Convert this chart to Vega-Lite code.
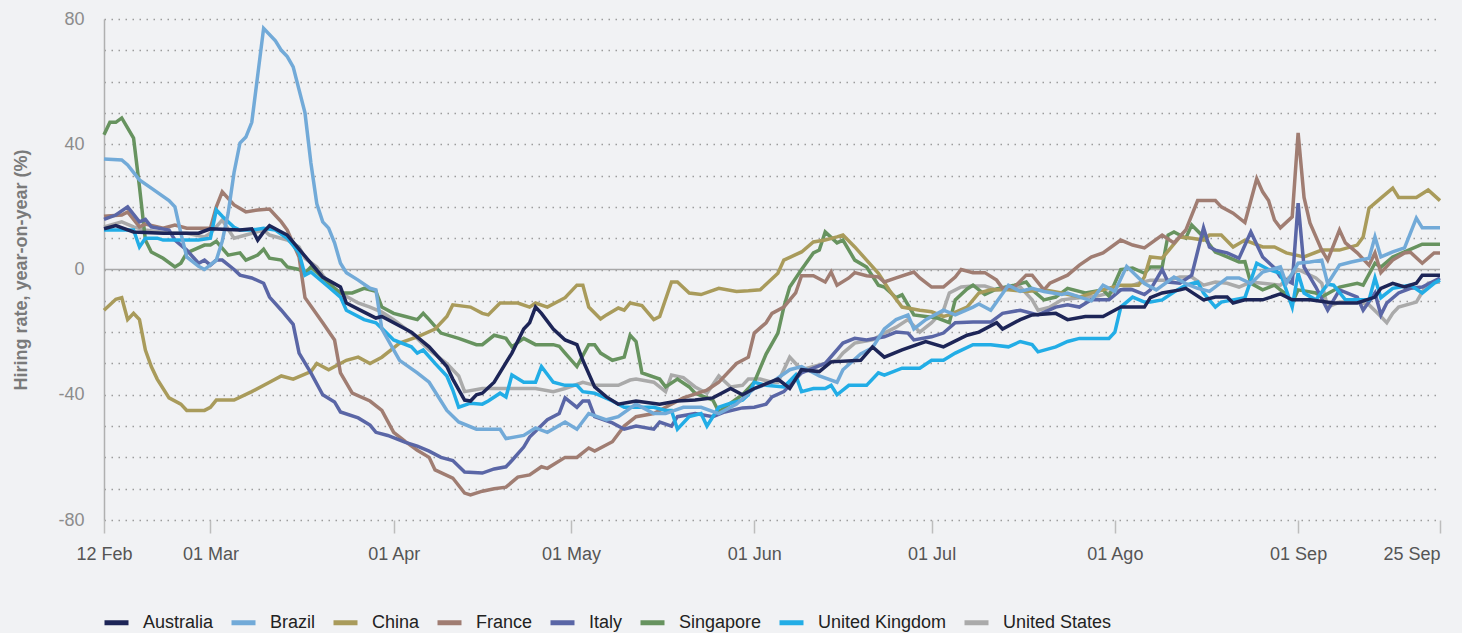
{
"$schema":"https://vega.github.io/schema/vega-lite/v6.json",
"width":1336,"height":501,
"autosize":{"type":"none"},
"padding":{"left":104,"top":19,"right":22,"bottom":113},
"background":"#f1f2f4",
"config":{"view":{"stroke":null},"font":"Liberation Sans"},
"data":{"values":[
{"country":"United States","date":"2020-02-12","rate":13.6},{"country":"United States","date":"2020-02-15","rate":15.2},{"country":"United States","date":"2020-02-17","rate":13.6},{"country":"United States","date":"2020-02-19","rate":12.6},{"country":"United States","date":"2020-02-23","rate":11.6},{"country":"United States","date":"2020-02-26","rate":11.6},{"country":"United States","date":"2020-02-29","rate":10.4},{"country":"United States","date":"2020-03-01","rate":11.6},{"country":"United States","date":"2020-03-03","rate":15.8},{"country":"United States","date":"2020-03-05","rate":10},{"country":"United States","date":"2020-03-07","rate":11},{"country":"United States","date":"2020-03-10","rate":12.6},{"country":"United States","date":"2020-03-11","rate":11},{"country":"United States","date":"2020-03-14","rate":9.4},{"country":"United States","date":"2020-03-16","rate":7.2},{"country":"United States","date":"2020-03-17","rate":3.6},{"country":"United States","date":"2020-03-19","rate":0.8},{"country":"United States","date":"2020-03-21","rate":-4.4},{"country":"United States","date":"2020-03-23","rate":-7.5},{"country":"United States","date":"2020-03-26","rate":-10.7},{"country":"United States","date":"2020-03-28","rate":-12},{"country":"United States","date":"2020-03-30","rate":-13.6},{"country":"United States","date":"2020-04-01","rate":-16},{"country":"United States","date":"2020-04-04","rate":-20.3},{"country":"United States","date":"2020-04-07","rate":-25.7},{"country":"United States","date":"2020-04-10","rate":-30},{"country":"United States","date":"2020-04-12","rate":-34},{"country":"United States","date":"2020-04-13","rate":-39},{"country":"United States","date":"2020-04-16","rate":-38},{"country":"United States","date":"2020-04-18","rate":-38},{"country":"United States","date":"2020-04-22","rate":-38},{"country":"United States","date":"2020-04-25","rate":-38},{"country":"United States","date":"2020-04-28","rate":-39},{"country":"United States","date":"2020-04-30","rate":-38},{"country":"United States","date":"2020-05-03","rate":-36},{"country":"United States","date":"2020-05-05","rate":-37},{"country":"United States","date":"2020-05-09","rate":-37},{"country":"United States","date":"2020-05-11","rate":-35.3},{"country":"United States","date":"2020-05-12","rate":-35},{"country":"United States","date":"2020-05-15","rate":-36},{"country":"United States","date":"2020-05-17","rate":-39},{"country":"United States","date":"2020-05-18","rate":-33.7},{"country":"United States","date":"2020-05-20","rate":-34.5},{"country":"United States","date":"2020-05-22","rate":-37.5},{"country":"United States","date":"2020-05-24","rate":-39.5},{"country":"United States","date":"2020-05-26","rate":-34},{"country":"United States","date":"2020-05-28","rate":-37.5},{"country":"United States","date":"2020-05-30","rate":-37},{"country":"United States","date":"2020-05-31","rate":-35},{"country":"United States","date":"2020-06-02","rate":-35},{"country":"United States","date":"2020-06-04","rate":-36},{"country":"United States","date":"2020-06-05","rate":-36},{"country":"United States","date":"2020-06-07","rate":-28},{"country":"United States","date":"2020-06-09","rate":-32},{"country":"United States","date":"2020-06-12","rate":-30.5},{"country":"United States","date":"2020-06-15","rate":-29},{"country":"United States","date":"2020-06-16","rate":-26.7},{"country":"United States","date":"2020-06-18","rate":-23.5},{"country":"United States","date":"2020-06-21","rate":-22.5},{"country":"United States","date":"2020-06-23","rate":-20.3},{"country":"United States","date":"2020-06-25","rate":-18.4},{"country":"United States","date":"2020-06-27","rate":-16},{"country":"United States","date":"2020-06-29","rate":-20},{"country":"United States","date":"2020-07-01","rate":-17},{"country":"United States","date":"2020-07-03","rate":-13},{"country":"United States","date":"2020-07-04","rate":-7.5},{"country":"United States","date":"2020-07-06","rate":-5.6},{"country":"United States","date":"2020-07-08","rate":-5.3},{"country":"United States","date":"2020-07-10","rate":-5.3},{"country":"United States","date":"2020-07-12","rate":-6.5},{"country":"United States","date":"2020-07-15","rate":-5.6},{"country":"United States","date":"2020-07-16","rate":-5.6},{"country":"United States","date":"2020-07-18","rate":-9.7},{"country":"United States","date":"2020-07-19","rate":-13},{"country":"United States","date":"2020-07-21","rate":-12},{"country":"United States","date":"2020-07-23","rate":-9.7},{"country":"United States","date":"2020-07-26","rate":-9},{"country":"United States","date":"2020-07-29","rate":-8.5},{"country":"United States","date":"2020-07-31","rate":-7.5},{"country":"United States","date":"2020-08-02","rate":-6.5},{"country":"United States","date":"2020-08-05","rate":-4.4},{"country":"United States","date":"2020-08-07","rate":-3.4},{"country":"United States","date":"2020-08-10","rate":-3.4},{"country":"United States","date":"2020-08-12","rate":-2.4},{"country":"United States","date":"2020-08-14","rate":-2.4},{"country":"United States","date":"2020-08-16","rate":-5},{"country":"United States","date":"2020-08-18","rate":-4},{"country":"United States","date":"2020-08-20","rate":-4.4},{"country":"United States","date":"2020-08-22","rate":-5.6},{"country":"United States","date":"2020-08-24","rate":-4},{"country":"United States","date":"2020-08-26","rate":-4.4},{"country":"United States","date":"2020-08-29","rate":-5},{"country":"United States","date":"2020-09-01","rate":0},{"country":"United States","date":"2020-09-04","rate":-2.7},{"country":"United States","date":"2020-09-05","rate":-4.4},{"country":"United States","date":"2020-09-06","rate":-12},{"country":"United States","date":"2020-09-08","rate":-10.4},{"country":"United States","date":"2020-09-11","rate":-10.4},{"country":"United States","date":"2020-09-13","rate":-11.3},{"country":"United States","date":"2020-09-15","rate":-15},{"country":"United States","date":"2020-09-16","rate":-17},{"country":"United States","date":"2020-09-17","rate":-14},{"country":"United States","date":"2020-09-18","rate":-12},{"country":"United States","date":"2020-09-21","rate":-10.4},{"country":"United States","date":"2020-09-22","rate":-7.2},{"country":"United States","date":"2020-09-23","rate":-4.4},{"country":"United States","date":"2020-09-25","rate":-4},
{"country":"Singapore","date":"2020-02-12","rate":43},{"country":"Singapore","date":"2020-02-13","rate":47},{"country":"Singapore","date":"2020-02-14","rate":47},{"country":"Singapore","date":"2020-02-15","rate":48.4},{"country":"Singapore","date":"2020-02-17","rate":42},{"country":"Singapore","date":"2020-02-18","rate":26.4},{"country":"Singapore","date":"2020-02-19","rate":9.4},{"country":"Singapore","date":"2020-02-20","rate":5.6},{"country":"Singapore","date":"2020-02-22","rate":3.6},{"country":"Singapore","date":"2020-02-24","rate":0.8},{"country":"Singapore","date":"2020-02-25","rate":2},{"country":"Singapore","date":"2020-02-26","rate":5.3},{"country":"Singapore","date":"2020-02-29","rate":7.8},{"country":"Singapore","date":"2020-03-01","rate":7.8},{"country":"Singapore","date":"2020-03-02","rate":9},{"country":"Singapore","date":"2020-03-04","rate":4.6},{"country":"Singapore","date":"2020-03-06","rate":5.3},{"country":"Singapore","date":"2020-03-07","rate":3},{"country":"Singapore","date":"2020-03-09","rate":4.6},{"country":"Singapore","date":"2020-03-10","rate":6.5},{"country":"Singapore","date":"2020-03-11","rate":3.6},{"country":"Singapore","date":"2020-03-13","rate":3},{"country":"Singapore","date":"2020-03-14","rate":0.8},{"country":"Singapore","date":"2020-03-16","rate":0},{"country":"Singapore","date":"2020-03-17","rate":-1.2},{"country":"Singapore","date":"2020-03-18","rate":0.8},{"country":"Singapore","date":"2020-03-21","rate":-4.4},{"country":"Singapore","date":"2020-03-23","rate":-7.5},{"country":"Singapore","date":"2020-03-25","rate":-7.5},{"country":"Singapore","date":"2020-03-27","rate":-6},{"country":"Singapore","date":"2020-03-29","rate":-7},{"country":"Singapore","date":"2020-03-30","rate":-12},{"country":"Singapore","date":"2020-04-01","rate":-14},{"country":"Singapore","date":"2020-04-03","rate":-15},{"country":"Singapore","date":"2020-04-05","rate":-16},{"country":"Singapore","date":"2020-04-06","rate":-14},{"country":"Singapore","date":"2020-04-07","rate":-16},{"country":"Singapore","date":"2020-04-09","rate":-20.3},{"country":"Singapore","date":"2020-04-12","rate":-22},{"country":"Singapore","date":"2020-04-15","rate":-24},{"country":"Singapore","date":"2020-04-16","rate":-24},{"country":"Singapore","date":"2020-04-18","rate":-21},{"country":"Singapore","date":"2020-04-20","rate":-22},{"country":"Singapore","date":"2020-04-21","rate":-24.7},{"country":"Singapore","date":"2020-04-23","rate":-22},{"country":"Singapore","date":"2020-04-25","rate":-24},{"country":"Singapore","date":"2020-04-28","rate":-24},{"country":"Singapore","date":"2020-04-29","rate":-24.5},{"country":"Singapore","date":"2020-04-30","rate":-26.7},{"country":"Singapore","date":"2020-05-02","rate":-31},{"country":"Singapore","date":"2020-05-04","rate":-24},{"country":"Singapore","date":"2020-05-05","rate":-24},{"country":"Singapore","date":"2020-05-06","rate":-26.7},{"country":"Singapore","date":"2020-05-08","rate":-29},{"country":"Singapore","date":"2020-05-10","rate":-28},{"country":"Singapore","date":"2020-05-11","rate":-21},{"country":"Singapore","date":"2020-05-12","rate":-23},{"country":"Singapore","date":"2020-05-13","rate":-33},{"country":"Singapore","date":"2020-05-16","rate":-35},{"country":"Singapore","date":"2020-05-17","rate":-37.5},{"country":"Singapore","date":"2020-05-19","rate":-35},{"country":"Singapore","date":"2020-05-21","rate":-37.5},{"country":"Singapore","date":"2020-05-22","rate":-39.5},{"country":"Singapore","date":"2020-05-25","rate":-41.7},{"country":"Singapore","date":"2020-05-26","rate":-45.5},{"country":"Singapore","date":"2020-05-28","rate":-42.7},{"country":"Singapore","date":"2020-05-30","rate":-40},{"country":"Singapore","date":"2020-06-01","rate":-36},{"country":"Singapore","date":"2020-06-03","rate":-27},{"country":"Singapore","date":"2020-06-05","rate":-20.3},{"country":"Singapore","date":"2020-06-06","rate":-12},{"country":"Singapore","date":"2020-06-07","rate":-5.6},{"country":"Singapore","date":"2020-06-09","rate":0},{"country":"Singapore","date":"2020-06-11","rate":5.3},{"country":"Singapore","date":"2020-06-12","rate":6.2},{"country":"Singapore","date":"2020-06-13","rate":12},{"country":"Singapore","date":"2020-06-15","rate":8.5},{"country":"Singapore","date":"2020-06-16","rate":9.4},{"country":"Singapore","date":"2020-06-18","rate":3},{"country":"Singapore","date":"2020-06-20","rate":0.8},{"country":"Singapore","date":"2020-06-22","rate":-5},{"country":"Singapore","date":"2020-06-23","rate":-5.6},{"country":"Singapore","date":"2020-06-25","rate":-9},{"country":"Singapore","date":"2020-06-26","rate":-8.1},{"country":"Singapore","date":"2020-06-28","rate":-14.5},{"country":"Singapore","date":"2020-06-30","rate":-15},{"country":"Singapore","date":"2020-07-02","rate":-15.5},{"country":"Singapore","date":"2020-07-04","rate":-17},{"country":"Singapore","date":"2020-07-05","rate":-9.7},{"country":"Singapore","date":"2020-07-07","rate":-6.2},{"country":"Singapore","date":"2020-07-08","rate":-5},{"country":"Singapore","date":"2020-07-10","rate":-8},{"country":"Singapore","date":"2020-07-12","rate":-6.2},{"country":"Singapore","date":"2020-07-15","rate":-5},{"country":"Singapore","date":"2020-07-17","rate":-4},{"country":"Singapore","date":"2020-07-18","rate":-6.5},{"country":"Singapore","date":"2020-07-20","rate":-9.7},{"country":"Singapore","date":"2020-07-22","rate":-8.8},{"country":"Singapore","date":"2020-07-24","rate":-6},{"country":"Singapore","date":"2020-07-27","rate":-7.5},{"country":"Singapore","date":"2020-07-30","rate":-6.5},{"country":"Singapore","date":"2020-07-31","rate":-8.5},{"country":"Singapore","date":"2020-08-02","rate":0},{"country":"Singapore","date":"2020-08-04","rate":0.5},{"country":"Singapore","date":"2020-08-06","rate":-1.2},{"country":"Singapore","date":"2020-08-07","rate":0.8},{"country":"Singapore","date":"2020-08-09","rate":0.8},{"country":"Singapore","date":"2020-08-10","rate":11},{"country":"Singapore","date":"2020-08-11","rate":12},{"country":"Singapore","date":"2020-08-13","rate":10},{"country":"Singapore","date":"2020-08-14","rate":14.2},{"country":"Singapore","date":"2020-08-16","rate":10.4},{"country":"Singapore","date":"2020-08-18","rate":5.6},{"country":"Singapore","date":"2020-08-20","rate":4},{"country":"Singapore","date":"2020-08-22","rate":2.4},{"country":"Singapore","date":"2020-08-23","rate":2.5},{"country":"Singapore","date":"2020-08-24","rate":-4.4},{"country":"Singapore","date":"2020-08-26","rate":-6.5},{"country":"Singapore","date":"2020-08-28","rate":-5},{"country":"Singapore","date":"2020-08-30","rate":-8},{"country":"Singapore","date":"2020-08-31","rate":-10.7},{"country":"Singapore","date":"2020-09-01","rate":-6.5},{"country":"Singapore","date":"2020-09-04","rate":-7.5},{"country":"Singapore","date":"2020-09-05","rate":-8.8},{"country":"Singapore","date":"2020-09-08","rate":-5.6},{"country":"Singapore","date":"2020-09-11","rate":-4.4},{"country":"Singapore","date":"2020-09-12","rate":-5},{"country":"Singapore","date":"2020-09-14","rate":2},{"country":"Singapore","date":"2020-09-15","rate":0.8},{"country":"Singapore","date":"2020-09-17","rate":4},{"country":"Singapore","date":"2020-09-19","rate":5.6},{"country":"Singapore","date":"2020-09-22","rate":8.1},{"country":"Singapore","date":"2020-09-25","rate":8.1},
{"country":"China","date":"2020-02-12","rate":-13},{"country":"China","date":"2020-02-14","rate":-9.5},{"country":"China","date":"2020-02-15","rate":-9},{"country":"China","date":"2020-02-16","rate":-16},{"country":"China","date":"2020-02-17","rate":-14},{"country":"China","date":"2020-02-18","rate":-16},{"country":"China","date":"2020-02-19","rate":-25.7},{"country":"China","date":"2020-02-20","rate":-31},{"country":"China","date":"2020-02-21","rate":-35},{"country":"China","date":"2020-02-23","rate":-41},{"country":"China","date":"2020-02-25","rate":-43},{"country":"China","date":"2020-02-26","rate":-45},{"country":"China","date":"2020-02-29","rate":-45},{"country":"China","date":"2020-03-01","rate":-44},{"country":"China","date":"2020-03-02","rate":-41.7},{"country":"China","date":"2020-03-05","rate":-41.7},{"country":"China","date":"2020-03-08","rate":-39},{"country":"China","date":"2020-03-11","rate":-36},{"country":"China","date":"2020-03-13","rate":-34},{"country":"China","date":"2020-03-15","rate":-35},{"country":"China","date":"2020-03-18","rate":-32.6},{"country":"China","date":"2020-03-19","rate":-30},{"country":"China","date":"2020-03-21","rate":-32},{"country":"China","date":"2020-03-24","rate":-29},{"country":"China","date":"2020-03-26","rate":-28},{"country":"China","date":"2020-03-28","rate":-30},{"country":"China","date":"2020-03-30","rate":-28},{"country":"China","date":"2020-04-01","rate":-25},{"country":"China","date":"2020-04-02","rate":-23.5},{"country":"China","date":"2020-04-05","rate":-21.5},{"country":"China","date":"2020-04-08","rate":-19},{"country":"China","date":"2020-04-10","rate":-15},{"country":"China","date":"2020-04-11","rate":-11.3},{"country":"China","date":"2020-04-14","rate":-12},{"country":"China","date":"2020-04-16","rate":-14},{"country":"China","date":"2020-04-17","rate":-14.5},{"country":"China","date":"2020-04-19","rate":-10.7},{"country":"China","date":"2020-04-22","rate":-10.7},{"country":"China","date":"2020-04-24","rate":-12},{"country":"China","date":"2020-04-25","rate":-10.7},{"country":"China","date":"2020-04-27","rate":-12},{"country":"China","date":"2020-04-30","rate":-9},{"country":"China","date":"2020-05-02","rate":-5},{"country":"China","date":"2020-05-03","rate":-5},{"country":"China","date":"2020-05-04","rate":-12},{"country":"China","date":"2020-05-06","rate":-15.8},{"country":"China","date":"2020-05-07","rate":-14.5},{"country":"China","date":"2020-05-09","rate":-12.3},{"country":"China","date":"2020-05-10","rate":-13},{"country":"China","date":"2020-05-11","rate":-10.7},{"country":"China","date":"2020-05-13","rate":-11.5},{"country":"China","date":"2020-05-15","rate":-16},{"country":"China","date":"2020-05-16","rate":-15},{"country":"China","date":"2020-05-18","rate":-4},{"country":"China","date":"2020-05-19","rate":-4},{"country":"China","date":"2020-05-21","rate":-7.5},{"country":"China","date":"2020-05-23","rate":-8},{"country":"China","date":"2020-05-26","rate":-6},{"country":"China","date":"2020-05-29","rate":-7},{"country":"China","date":"2020-05-31","rate":-6.8},{"country":"China","date":"2020-06-02","rate":-6.5},{"country":"China","date":"2020-06-05","rate":-1.2},{"country":"China","date":"2020-06-06","rate":3},{"country":"China","date":"2020-06-09","rate":5.6},{"country":"China","date":"2020-06-11","rate":8.8},{"country":"China","date":"2020-06-13","rate":9.4},{"country":"China","date":"2020-06-15","rate":10.4},{"country":"China","date":"2020-06-16","rate":11},{"country":"China","date":"2020-06-18","rate":7.2},{"country":"China","date":"2020-06-20","rate":3},{"country":"China","date":"2020-06-22","rate":-1.2},{"country":"China","date":"2020-06-24","rate":-7},{"country":"China","date":"2020-06-26","rate":-12},{"country":"China","date":"2020-06-29","rate":-13},{"country":"China","date":"2020-07-01","rate":-13.5},{"country":"China","date":"2020-07-03","rate":-15},{"country":"China","date":"2020-07-04","rate":-14.5},{"country":"China","date":"2020-07-07","rate":-12},{"country":"China","date":"2020-07-09","rate":-7.5},{"country":"China","date":"2020-07-11","rate":-6.5},{"country":"China","date":"2020-07-14","rate":-6.5},{"country":"China","date":"2020-07-17","rate":-7},{"country":"China","date":"2020-07-20","rate":-6.5},{"country":"China","date":"2020-07-23","rate":-7.5},{"country":"China","date":"2020-07-26","rate":-8.8},{"country":"China","date":"2020-07-29","rate":-7},{"country":"China","date":"2020-07-31","rate":-6},{"country":"China","date":"2020-08-02","rate":-5},{"country":"China","date":"2020-08-05","rate":-5},{"country":"China","date":"2020-08-06","rate":-2.4},{"country":"China","date":"2020-08-07","rate":4},{"country":"China","date":"2020-08-09","rate":3.6},{"country":"China","date":"2020-08-12","rate":10.4},{"country":"China","date":"2020-08-14","rate":10},{"country":"China","date":"2020-08-16","rate":9.4},{"country":"China","date":"2020-08-17","rate":11},{"country":"China","date":"2020-08-19","rate":11},{"country":"China","date":"2020-08-21","rate":7.2},{"country":"China","date":"2020-08-23","rate":9.4},{"country":"China","date":"2020-08-26","rate":7.2},{"country":"China","date":"2020-08-28","rate":7.2},{"country":"China","date":"2020-08-30","rate":5.3},{"country":"China","date":"2020-09-02","rate":4},{"country":"China","date":"2020-09-05","rate":6.2},{"country":"China","date":"2020-09-08","rate":6.2},{"country":"China","date":"2020-09-11","rate":7.8},{"country":"China","date":"2020-09-12","rate":10.4},{"country":"China","date":"2020-09-13","rate":19.6},{"country":"China","date":"2020-09-15","rate":22.8},{"country":"China","date":"2020-09-17","rate":26},{"country":"China","date":"2020-09-18","rate":23},{"country":"China","date":"2020-09-21","rate":23},{"country":"China","date":"2020-09-23","rate":25.4},{"country":"China","date":"2020-09-25","rate":22},
{"country":"France","date":"2020-02-12","rate":17},{"country":"France","date":"2020-02-15","rate":17.4},{"country":"France","date":"2020-02-16","rate":18.4},{"country":"France","date":"2020-02-18","rate":13.6},{"country":"France","date":"2020-02-19","rate":14.5},{"country":"France","date":"2020-02-22","rate":13.2},{"country":"France","date":"2020-02-24","rate":14.2},{"country":"France","date":"2020-02-26","rate":13.2},{"country":"France","date":"2020-03-01","rate":13.2},{"country":"France","date":"2020-03-02","rate":20},{"country":"France","date":"2020-03-03","rate":24.8},{"country":"France","date":"2020-03-05","rate":20.6},{"country":"France","date":"2020-03-07","rate":18.4},{"country":"France","date":"2020-03-09","rate":19},{"country":"France","date":"2020-03-11","rate":19.3},{"country":"France","date":"2020-03-13","rate":15.2},{"country":"France","date":"2020-03-14","rate":12.6},{"country":"France","date":"2020-03-16","rate":4},{"country":"France","date":"2020-03-17","rate":-9},{"country":"France","date":"2020-03-20","rate":-17},{"country":"France","date":"2020-03-22","rate":-22.5},{"country":"France","date":"2020-03-23","rate":-33},{"country":"France","date":"2020-03-25","rate":-39.5},{"country":"France","date":"2020-03-28","rate":-42},{"country":"France","date":"2020-03-30","rate":-45},{"country":"France","date":"2020-04-01","rate":-52},{"country":"France","date":"2020-04-03","rate":-55},{"country":"France","date":"2020-04-05","rate":-57.7},{"country":"France","date":"2020-04-07","rate":-60},{"country":"France","date":"2020-04-08","rate":-64},{"country":"France","date":"2020-04-11","rate":-66.6},{"country":"France","date":"2020-04-13","rate":-71.4},{"country":"France","date":"2020-04-14","rate":-72},{"country":"France","date":"2020-04-16","rate":-70.8},{"country":"France","date":"2020-04-18","rate":-70},{"country":"France","date":"2020-04-20","rate":-69.5},{"country":"France","date":"2020-04-22","rate":-66.3},{"country":"France","date":"2020-04-24","rate":-65.6},{"country":"France","date":"2020-04-26","rate":-63},{"country":"France","date":"2020-04-27","rate":-63.5},{"country":"France","date":"2020-04-30","rate":-60},{"country":"France","date":"2020-05-02","rate":-60},{"country":"France","date":"2020-05-04","rate":-57},{"country":"France","date":"2020-05-05","rate":-58},{"country":"France","date":"2020-05-08","rate":-55},{"country":"France","date":"2020-05-10","rate":-50},{"country":"France","date":"2020-05-12","rate":-47},{"country":"France","date":"2020-05-15","rate":-46},{"country":"France","date":"2020-05-17","rate":-44},{"country":"France","date":"2020-05-20","rate":-41},{"country":"France","date":"2020-05-24","rate":-38.5},{"country":"France","date":"2020-05-26","rate":-36},{"country":"France","date":"2020-05-29","rate":-30},{"country":"France","date":"2020-05-31","rate":-28},{"country":"France","date":"2020-06-01","rate":-20.3},{"country":"France","date":"2020-06-03","rate":-17},{"country":"France","date":"2020-06-04","rate":-14},{"country":"France","date":"2020-06-06","rate":-12},{"country":"France","date":"2020-06-08","rate":-7.5},{"country":"France","date":"2020-06-09","rate":-2},{"country":"France","date":"2020-06-11","rate":-2},{"country":"France","date":"2020-06-13","rate":-4},{"country":"France","date":"2020-06-14","rate":-0.8},{"country":"France","date":"2020-06-15","rate":-5},{"country":"France","date":"2020-06-17","rate":-2.7},{"country":"France","date":"2020-06-18","rate":-1},{"country":"France","date":"2020-06-20","rate":-2},{"country":"France","date":"2020-06-22","rate":-2.4},{"country":"France","date":"2020-06-23","rate":-4},{"country":"France","date":"2020-06-25","rate":-2.7},{"country":"France","date":"2020-06-28","rate":-0.8},{"country":"France","date":"2020-06-29","rate":-2.7},{"country":"France","date":"2020-07-01","rate":-5.6},{"country":"France","date":"2020-07-03","rate":-5.6},{"country":"France","date":"2020-07-05","rate":-2.4},{"country":"France","date":"2020-07-06","rate":0},{"country":"France","date":"2020-07-08","rate":-1},{"country":"France","date":"2020-07-10","rate":-1},{"country":"France","date":"2020-07-12","rate":-3.4},{"country":"France","date":"2020-07-13","rate":-6},{"country":"France","date":"2020-07-15","rate":-5.6},{"country":"France","date":"2020-07-17","rate":-1.8},{"country":"France","date":"2020-07-18","rate":-1.8},{"country":"France","date":"2020-07-20","rate":-6.5},{"country":"France","date":"2020-07-21","rate":-4.4},{"country":"France","date":"2020-07-24","rate":-1.8},{"country":"France","date":"2020-07-26","rate":1.4},{"country":"France","date":"2020-07-28","rate":4},{"country":"France","date":"2020-07-30","rate":5.3},{"country":"France","date":"2020-08-02","rate":9.4},{"country":"France","date":"2020-08-04","rate":7.8},{"country":"France","date":"2020-08-06","rate":6.9},{"country":"France","date":"2020-08-09","rate":11},{"country":"France","date":"2020-08-11","rate":8.5},{"country":"France","date":"2020-08-13","rate":12.6},{"country":"France","date":"2020-08-15","rate":22},{"country":"France","date":"2020-08-18","rate":22},{"country":"France","date":"2020-08-19","rate":20},{"country":"France","date":"2020-08-21","rate":18},{"country":"France","date":"2020-08-23","rate":15},{"country":"France","date":"2020-08-25","rate":29},{"country":"France","date":"2020-08-26","rate":24.8},{"country":"France","date":"2020-08-27","rate":22},{"country":"France","date":"2020-08-28","rate":15.8},{"country":"France","date":"2020-08-29","rate":13.3},{"country":"France","date":"2020-08-31","rate":16.8},{"country":"France","date":"2020-09-01","rate":43.6},{"country":"France","date":"2020-09-02","rate":23},{"country":"France","date":"2020-09-03","rate":14.9},{"country":"France","date":"2020-09-05","rate":6.2},{"country":"France","date":"2020-09-06","rate":3},{"country":"France","date":"2020-09-08","rate":12.6},{"country":"France","date":"2020-09-09","rate":8.5},{"country":"France","date":"2020-09-11","rate":5.3},{"country":"France","date":"2020-09-13","rate":1.4},{"country":"France","date":"2020-09-14","rate":5.3},{"country":"France","date":"2020-09-15","rate":-1},{"country":"France","date":"2020-09-17","rate":3},{"country":"France","date":"2020-09-19","rate":5.3},{"country":"France","date":"2020-09-20","rate":5.5},{"country":"France","date":"2020-09-22","rate":2},{"country":"France","date":"2020-09-24","rate":5.3},{"country":"France","date":"2020-09-25","rate":5.3},
{"country":"Italy","date":"2020-02-12","rate":16},{"country":"Italy","date":"2020-02-14","rate":17.4},{"country":"Italy","date":"2020-02-16","rate":20},{"country":"Italy","date":"2020-02-18","rate":15.2},{"country":"Italy","date":"2020-02-19","rate":16},{"country":"Italy","date":"2020-02-20","rate":13.6},{"country":"Italy","date":"2020-02-23","rate":12.6},{"country":"Italy","date":"2020-02-24","rate":9.4},{"country":"Italy","date":"2020-02-26","rate":6.2},{"country":"Italy","date":"2020-02-28","rate":2},{"country":"Italy","date":"2020-02-29","rate":3},{"country":"Italy","date":"2020-03-01","rate":1.4},{"country":"Italy","date":"2020-03-02","rate":3},{"country":"Italy","date":"2020-03-03","rate":3},{"country":"Italy","date":"2020-03-05","rate":0},{"country":"Italy","date":"2020-03-06","rate":-1.8},{"country":"Italy","date":"2020-03-08","rate":-2.7},{"country":"Italy","date":"2020-03-10","rate":-4.4},{"country":"Italy","date":"2020-03-11","rate":-8.8},{"country":"Italy","date":"2020-03-13","rate":-13},{"country":"Italy","date":"2020-03-15","rate":-17.5},{"country":"Italy","date":"2020-03-16","rate":-26.7},{"country":"Italy","date":"2020-03-18","rate":-33},{"country":"Italy","date":"2020-03-20","rate":-40},{"country":"Italy","date":"2020-03-22","rate":-42.3},{"country":"Italy","date":"2020-03-23","rate":-45.5},{"country":"Italy","date":"2020-03-26","rate":-47.4},{"country":"Italy","date":"2020-03-28","rate":-49.7},{"country":"Italy","date":"2020-03-29","rate":-52},{"country":"Italy","date":"2020-03-31","rate":-53},{"country":"Italy","date":"2020-04-03","rate":-55.2},{"country":"Italy","date":"2020-04-05","rate":-56.4},{"country":"Italy","date":"2020-04-07","rate":-58},{"country":"Italy","date":"2020-04-09","rate":-60},{"country":"Italy","date":"2020-04-11","rate":-61},{"country":"Italy","date":"2020-04-13","rate":-64.7},{"country":"Italy","date":"2020-04-16","rate":-65},{"country":"Italy","date":"2020-04-18","rate":-63.7},{"country":"Italy","date":"2020-04-20","rate":-63},{"country":"Italy","date":"2020-04-21","rate":-61},{"country":"Italy","date":"2020-04-23","rate":-56.7},{"country":"Italy","date":"2020-04-24","rate":-53.5},{"country":"Italy","date":"2020-04-27","rate":-48},{"country":"Italy","date":"2020-04-29","rate":-46},{"country":"Italy","date":"2020-04-30","rate":-41},{"country":"Italy","date":"2020-05-02","rate":-44},{"country":"Italy","date":"2020-05-03","rate":-42},{"country":"Italy","date":"2020-05-04","rate":-42},{"country":"Italy","date":"2020-05-05","rate":-47},{"country":"Italy","date":"2020-05-08","rate":-49},{"country":"Italy","date":"2020-05-10","rate":-51},{"country":"Italy","date":"2020-05-12","rate":-50},{"country":"Italy","date":"2020-05-15","rate":-51},{"country":"Italy","date":"2020-05-16","rate":-48.7},{"country":"Italy","date":"2020-05-18","rate":-50},{"country":"Italy","date":"2020-05-19","rate":-47},{"country":"Italy","date":"2020-05-22","rate":-46},{"country":"Italy","date":"2020-05-25","rate":-47},{"country":"Italy","date":"2020-05-27","rate":-45.5},{"country":"Italy","date":"2020-05-30","rate":-44.2},{"country":"Italy","date":"2020-06-01","rate":-44},{"country":"Italy","date":"2020-06-03","rate":-43},{"country":"Italy","date":"2020-06-04","rate":-40.7},{"country":"Italy","date":"2020-06-06","rate":-39},{"country":"Italy","date":"2020-06-09","rate":-33},{"country":"Italy","date":"2020-06-11","rate":-31.5},{"country":"Italy","date":"2020-06-13","rate":-30},{"country":"Italy","date":"2020-06-16","rate":-23.5},{"country":"Italy","date":"2020-06-18","rate":-22},{"country":"Italy","date":"2020-06-20","rate":-22.5},{"country":"Italy","date":"2020-06-23","rate":-21.5},{"country":"Italy","date":"2020-06-25","rate":-20},{"country":"Italy","date":"2020-06-27","rate":-20.3},{"country":"Italy","date":"2020-06-28","rate":-22.5},{"country":"Italy","date":"2020-07-01","rate":-21.5},{"country":"Italy","date":"2020-07-03","rate":-20.3},{"country":"Italy","date":"2020-07-05","rate":-17},{"country":"Italy","date":"2020-07-08","rate":-16.8},{"country":"Italy","date":"2020-07-11","rate":-16.8},{"country":"Italy","date":"2020-07-13","rate":-14},{"country":"Italy","date":"2020-07-16","rate":-13},{"country":"Italy","date":"2020-07-19","rate":-14.5},{"country":"Italy","date":"2020-07-22","rate":-12},{"country":"Italy","date":"2020-07-24","rate":-11.3},{"country":"Italy","date":"2020-07-26","rate":-12},{"country":"Italy","date":"2020-07-28","rate":-9.7},{"country":"Italy","date":"2020-07-31","rate":-9.7},{"country":"Italy","date":"2020-08-02","rate":-6.5},{"country":"Italy","date":"2020-08-04","rate":-6.5},{"country":"Italy","date":"2020-08-06","rate":-8},{"country":"Italy","date":"2020-08-07","rate":-6.5},{"country":"Italy","date":"2020-08-09","rate":0},{"country":"Italy","date":"2020-08-10","rate":-4},{"country":"Italy","date":"2020-08-12","rate":-4.4},{"country":"Italy","date":"2020-08-14","rate":-1.8},{"country":"Italy","date":"2020-08-16","rate":13.3},{"country":"Italy","date":"2020-08-17","rate":7.2},{"country":"Italy","date":"2020-08-18","rate":6.2},{"country":"Italy","date":"2020-08-20","rate":5.3},{"country":"Italy","date":"2020-08-22","rate":3.6},{"country":"Italy","date":"2020-08-24","rate":12},{"country":"Italy","date":"2020-08-26","rate":4},{"country":"Italy","date":"2020-08-28","rate":0.5},{"country":"Italy","date":"2020-08-29","rate":-2.4},{"country":"Italy","date":"2020-08-31","rate":-4.4},{"country":"Italy","date":"2020-09-01","rate":21.2},{"country":"Italy","date":"2020-09-02","rate":0.8},{"country":"Italy","date":"2020-09-04","rate":-5.6},{"country":"Italy","date":"2020-09-06","rate":-13},{"country":"Italy","date":"2020-09-08","rate":-6.5},{"country":"Italy","date":"2020-09-11","rate":-8.8},{"country":"Italy","date":"2020-09-12","rate":-13},{"country":"Italy","date":"2020-09-14","rate":-7.5},{"country":"Italy","date":"2020-09-15","rate":-14.5},{"country":"Italy","date":"2020-09-16","rate":-10.7},{"country":"Italy","date":"2020-09-18","rate":-7.5},{"country":"Italy","date":"2020-09-20","rate":-6},{"country":"Italy","date":"2020-09-22","rate":-5.6},{"country":"Italy","date":"2020-09-25","rate":-2.7},
{"country":"United Kingdom","date":"2020-02-12","rate":12.6},{"country":"United Kingdom","date":"2020-02-15","rate":12.6},{"country":"United Kingdom","date":"2020-02-17","rate":12.6},{"country":"United Kingdom","date":"2020-02-18","rate":7.2},{"country":"United Kingdom","date":"2020-02-19","rate":10},{"country":"United Kingdom","date":"2020-02-21","rate":10},{"country":"United Kingdom","date":"2020-02-22","rate":9.4},{"country":"United Kingdom","date":"2020-02-26","rate":9.4},{"country":"United Kingdom","date":"2020-02-28","rate":9.4},{"country":"United Kingdom","date":"2020-03-01","rate":10},{"country":"United Kingdom","date":"2020-03-02","rate":19},{"country":"United Kingdom","date":"2020-03-03","rate":17},{"country":"United Kingdom","date":"2020-03-05","rate":13.5},{"country":"United Kingdom","date":"2020-03-06","rate":12.6},{"country":"United Kingdom","date":"2020-03-08","rate":12.6},{"country":"United Kingdom","date":"2020-03-10","rate":13.2},{"country":"United Kingdom","date":"2020-03-12","rate":12.6},{"country":"United Kingdom","date":"2020-03-14","rate":10},{"country":"United Kingdom","date":"2020-03-16","rate":5.3},{"country":"United Kingdom","date":"2020-03-17","rate":-1.8},{"country":"United Kingdom","date":"2020-03-18","rate":-0.8},{"country":"United Kingdom","date":"2020-03-19","rate":-2.4},{"country":"United Kingdom","date":"2020-03-21","rate":-5.6},{"country":"United Kingdom","date":"2020-03-23","rate":-8.8},{"country":"United Kingdom","date":"2020-03-24","rate":-13},{"country":"United Kingdom","date":"2020-03-27","rate":-16},{"country":"United Kingdom","date":"2020-03-29","rate":-17},{"country":"United Kingdom","date":"2020-03-30","rate":-18.8},{"country":"United Kingdom","date":"2020-04-01","rate":-22.5},{"country":"United Kingdom","date":"2020-04-04","rate":-24.7},{"country":"United Kingdom","date":"2020-04-05","rate":-26.7},{"country":"United Kingdom","date":"2020-04-06","rate":-25.7},{"country":"United Kingdom","date":"2020-04-08","rate":-30},{"country":"United Kingdom","date":"2020-04-10","rate":-34},{"country":"United Kingdom","date":"2020-04-11","rate":-38.5},{"country":"United Kingdom","date":"2020-04-12","rate":-44},{"country":"United Kingdom","date":"2020-04-14","rate":-42.7},{"country":"United Kingdom","date":"2020-04-16","rate":-43},{"country":"United Kingdom","date":"2020-04-17","rate":-42},{"country":"United Kingdom","date":"2020-04-19","rate":-39.5},{"country":"United Kingdom","date":"2020-04-20","rate":-40.7},{"country":"United Kingdom","date":"2020-04-21","rate":-33.7},{"country":"United Kingdom","date":"2020-04-23","rate":-36},{"country":"United Kingdom","date":"2020-04-25","rate":-36},{"country":"United Kingdom","date":"2020-04-26","rate":-31},{"country":"United Kingdom","date":"2020-04-28","rate":-36},{"country":"United Kingdom","date":"2020-04-30","rate":-37},{"country":"United Kingdom","date":"2020-05-02","rate":-37},{"country":"United Kingdom","date":"2020-05-03","rate":-39},{"country":"United Kingdom","date":"2020-05-05","rate":-39.5},{"country":"United Kingdom","date":"2020-05-08","rate":-42},{"country":"United Kingdom","date":"2020-05-10","rate":-44},{"country":"United Kingdom","date":"2020-05-15","rate":-44},{"country":"United Kingdom","date":"2020-05-17","rate":-45},{"country":"United Kingdom","date":"2020-05-18","rate":-45},{"country":"United Kingdom","date":"2020-05-19","rate":-51},{"country":"United Kingdom","date":"2020-05-21","rate":-47},{"country":"United Kingdom","date":"2020-05-23","rate":-46},{"country":"United Kingdom","date":"2020-05-24","rate":-50},{"country":"United Kingdom","date":"2020-05-26","rate":-44},{"country":"United Kingdom","date":"2020-05-28","rate":-42.7},{"country":"United Kingdom","date":"2020-05-30","rate":-41.7},{"country":"United Kingdom","date":"2020-05-31","rate":-40},{"country":"United Kingdom","date":"2020-06-01","rate":-36},{"country":"United Kingdom","date":"2020-06-03","rate":-37},{"country":"United Kingdom","date":"2020-06-06","rate":-37.5},{"country":"United Kingdom","date":"2020-06-08","rate":-33.7},{"country":"United Kingdom","date":"2020-06-09","rate":-39},{"country":"United Kingdom","date":"2020-06-11","rate":-38},{"country":"United Kingdom","date":"2020-06-13","rate":-38},{"country":"United Kingdom","date":"2020-06-14","rate":-37},{"country":"United Kingdom","date":"2020-06-15","rate":-40},{"country":"United Kingdom","date":"2020-06-17","rate":-37},{"country":"United Kingdom","date":"2020-06-20","rate":-37},{"country":"United Kingdom","date":"2020-06-22","rate":-33},{"country":"United Kingdom","date":"2020-06-23","rate":-33.7},{"country":"United Kingdom","date":"2020-06-26","rate":-31.5},{"country":"United Kingdom","date":"2020-06-29","rate":-31.5},{"country":"United Kingdom","date":"2020-07-01","rate":-29},{"country":"United Kingdom","date":"2020-07-03","rate":-29},{"country":"United Kingdom","date":"2020-07-05","rate":-26.7},{"country":"United Kingdom","date":"2020-07-08","rate":-24},{"country":"United Kingdom","date":"2020-07-11","rate":-24},{"country":"United Kingdom","date":"2020-07-14","rate":-24.7},{"country":"United Kingdom","date":"2020-07-16","rate":-23},{"country":"United Kingdom","date":"2020-07-18","rate":-24},{"country":"United Kingdom","date":"2020-07-19","rate":-26.3},{"country":"United Kingdom","date":"2020-07-22","rate":-24.7},{"country":"United Kingdom","date":"2020-07-24","rate":-23},{"country":"United Kingdom","date":"2020-07-26","rate":-22},{"country":"United Kingdom","date":"2020-07-29","rate":-22},{"country":"United Kingdom","date":"2020-07-31","rate":-22},{"country":"United Kingdom","date":"2020-08-01","rate":-20},{"country":"United Kingdom","date":"2020-08-02","rate":-12},{"country":"United Kingdom","date":"2020-08-04","rate":-8.8},{"country":"United Kingdom","date":"2020-08-06","rate":-10.4},{"country":"United Kingdom","date":"2020-08-07","rate":-10.4},{"country":"United Kingdom","date":"2020-08-09","rate":-9.7},{"country":"United Kingdom","date":"2020-08-11","rate":-7.2},{"country":"United Kingdom","date":"2020-08-13","rate":-5},{"country":"United Kingdom","date":"2020-08-15","rate":-4},{"country":"United Kingdom","date":"2020-08-16","rate":-7.5},{"country":"United Kingdom","date":"2020-08-18","rate":-12},{"country":"United Kingdom","date":"2020-08-19","rate":-10.4},{"country":"United Kingdom","date":"2020-08-21","rate":-9.7},{"country":"United Kingdom","date":"2020-08-23","rate":-9},{"country":"United Kingdom","date":"2020-08-25","rate":2},{"country":"United Kingdom","date":"2020-08-27","rate":0},{"country":"United Kingdom","date":"2020-08-29","rate":-1.2},{"country":"United Kingdom","date":"2020-08-31","rate":-12},{"country":"United Kingdom","date":"2020-09-01","rate":-1.2},{"country":"United Kingdom","date":"2020-09-02","rate":-7.5},{"country":"United Kingdom","date":"2020-09-04","rate":-9.7},{"country":"United Kingdom","date":"2020-09-06","rate":-4.7},{"country":"United Kingdom","date":"2020-09-07","rate":-5},{"country":"United Kingdom","date":"2020-09-09","rate":-9.7},{"country":"United Kingdom","date":"2020-09-13","rate":-9.7},{"country":"United Kingdom","date":"2020-09-14","rate":-2.7},{"country":"United Kingdom","date":"2020-09-15","rate":-9},{"country":"United Kingdom","date":"2020-09-17","rate":-6},{"country":"United Kingdom","date":"2020-09-20","rate":-5},{"country":"United Kingdom","date":"2020-09-22","rate":-7.5},{"country":"United Kingdom","date":"2020-09-24","rate":-4.4},{"country":"United Kingdom","date":"2020-09-25","rate":-3.4},
{"country":"Brazil","date":"2020-02-12","rate":35.3},{"country":"Brazil","date":"2020-02-15","rate":35},{"country":"Brazil","date":"2020-02-16","rate":33.4},{"country":"Brazil","date":"2020-02-18","rate":28.6},{"country":"Brazil","date":"2020-02-20","rate":26},{"country":"Brazil","date":"2020-02-23","rate":22},{"country":"Brazil","date":"2020-02-24","rate":20},{"country":"Brazil","date":"2020-02-25","rate":11.6},{"country":"Brazil","date":"2020-02-26","rate":4},{"country":"Brazil","date":"2020-02-28","rate":1},{"country":"Brazil","date":"2020-02-29","rate":0},{"country":"Brazil","date":"2020-03-02","rate":3},{"country":"Brazil","date":"2020-03-03","rate":9},{"country":"Brazil","date":"2020-03-04","rate":18},{"country":"Brazil","date":"2020-03-05","rate":31},{"country":"Brazil","date":"2020-03-06","rate":40.4},{"country":"Brazil","date":"2020-03-07","rate":42.3},{"country":"Brazil","date":"2020-03-08","rate":47},{"country":"Brazil","date":"2020-03-09","rate":62},{"country":"Brazil","date":"2020-03-10","rate":77},{"country":"Brazil","date":"2020-03-12","rate":73},{"country":"Brazil","date":"2020-03-13","rate":70},{"country":"Brazil","date":"2020-03-14","rate":68},{"country":"Brazil","date":"2020-03-15","rate":64.7},{"country":"Brazil","date":"2020-03-17","rate":50},{"country":"Brazil","date":"2020-03-18","rate":34},{"country":"Brazil","date":"2020-03-19","rate":21},{"country":"Brazil","date":"2020-03-20","rate":15.2},{"country":"Brazil","date":"2020-03-21","rate":13.2},{"country":"Brazil","date":"2020-03-22","rate":8.5},{"country":"Brazil","date":"2020-03-23","rate":2},{"country":"Brazil","date":"2020-03-24","rate":-1},{"country":"Brazil","date":"2020-03-26","rate":-3.4},{"country":"Brazil","date":"2020-03-28","rate":-6},{"country":"Brazil","date":"2020-03-29","rate":-6.5},{"country":"Brazil","date":"2020-03-30","rate":-19},{"country":"Brazil","date":"2020-04-02","rate":-29},{"country":"Brazil","date":"2020-04-05","rate":-33},{"country":"Brazil","date":"2020-04-07","rate":-36},{"country":"Brazil","date":"2020-04-10","rate":-45},{"country":"Brazil","date":"2020-04-12","rate":-48.7},{"country":"Brazil","date":"2020-04-15","rate":-51},{"country":"Brazil","date":"2020-04-19","rate":-51},{"country":"Brazil","date":"2020-04-20","rate":-54},{"country":"Brazil","date":"2020-04-23","rate":-53},{"country":"Brazil","date":"2020-04-25","rate":-50.6},{"country":"Brazil","date":"2020-04-27","rate":-52},{"country":"Brazil","date":"2020-04-30","rate":-48.7},{"country":"Brazil","date":"2020-05-02","rate":-51},{"country":"Brazil","date":"2020-05-04","rate":-46},{"country":"Brazil","date":"2020-05-07","rate":-48},{"country":"Brazil","date":"2020-05-09","rate":-47},{"country":"Brazil","date":"2020-05-12","rate":-43},{"country":"Brazil","date":"2020-05-15","rate":-46},{"country":"Brazil","date":"2020-05-17","rate":-46},{"country":"Brazil","date":"2020-05-20","rate":-44},{"country":"Brazil","date":"2020-05-23","rate":-44},{"country":"Brazil","date":"2020-05-26","rate":-46},{"country":"Brazil","date":"2020-05-29","rate":-43},{"country":"Brazil","date":"2020-06-01","rate":-38},{"country":"Brazil","date":"2020-06-04","rate":-36},{"country":"Brazil","date":"2020-06-07","rate":-32},{"country":"Brazil","date":"2020-06-09","rate":-31},{"country":"Brazil","date":"2020-06-12","rate":-34},{"country":"Brazil","date":"2020-06-15","rate":-36},{"country":"Brazil","date":"2020-06-16","rate":-32},{"country":"Brazil","date":"2020-06-19","rate":-27},{"country":"Brazil","date":"2020-06-21","rate":-25},{"country":"Brazil","date":"2020-06-23","rate":-19},{"country":"Brazil","date":"2020-06-25","rate":-16},{"country":"Brazil","date":"2020-06-27","rate":-14.5},{"country":"Brazil","date":"2020-06-28","rate":-19},{"country":"Brazil","date":"2020-06-30","rate":-16},{"country":"Brazil","date":"2020-07-03","rate":-13},{"country":"Brazil","date":"2020-07-05","rate":-14.5},{"country":"Brazil","date":"2020-07-08","rate":-12},{"country":"Brazil","date":"2020-07-09","rate":-11},{"country":"Brazil","date":"2020-07-11","rate":-13},{"country":"Brazil","date":"2020-07-14","rate":-5},{"country":"Brazil","date":"2020-07-16","rate":-7},{"country":"Brazil","date":"2020-07-18","rate":-6},{"country":"Brazil","date":"2020-07-20","rate":-7},{"country":"Brazil","date":"2020-07-23","rate":-8},{"country":"Brazil","date":"2020-07-24","rate":-7.5},{"country":"Brazil","date":"2020-07-28","rate":-10},{"country":"Brazil","date":"2020-07-30","rate":-5},{"country":"Brazil","date":"2020-08-01","rate":-7},{"country":"Brazil","date":"2020-08-03","rate":1},{"country":"Brazil","date":"2020-08-06","rate":-4.5},{"country":"Brazil","date":"2020-08-08","rate":-6.5},{"country":"Brazil","date":"2020-08-11","rate":-2.4},{"country":"Brazil","date":"2020-08-13","rate":-4.5},{"country":"Brazil","date":"2020-08-15","rate":-6},{"country":"Brazil","date":"2020-08-17","rate":-7},{"country":"Brazil","date":"2020-08-20","rate":-2.7},{"country":"Brazil","date":"2020-08-22","rate":-2.7},{"country":"Brazil","date":"2020-08-24","rate":-4.5},{"country":"Brazil","date":"2020-08-26","rate":-0.8},{"country":"Brazil","date":"2020-08-29","rate":0.8},{"country":"Brazil","date":"2020-08-30","rate":-4.5},{"country":"Brazil","date":"2020-09-01","rate":2},{"country":"Brazil","date":"2020-09-03","rate":2.4},{"country":"Brazil","date":"2020-09-05","rate":3},{"country":"Brazil","date":"2020-09-06","rate":-4.5},{"country":"Brazil","date":"2020-09-08","rate":1.4},{"country":"Brazil","date":"2020-09-10","rate":2.4},{"country":"Brazil","date":"2020-09-13","rate":3.6},{"country":"Brazil","date":"2020-09-14","rate":10.4},{"country":"Brazil","date":"2020-09-15","rate":4},{"country":"Brazil","date":"2020-09-17","rate":5.6},{"country":"Brazil","date":"2020-09-19","rate":6.9},{"country":"Brazil","date":"2020-09-21","rate":16.4},{"country":"Brazil","date":"2020-09-22","rate":13.3},{"country":"Brazil","date":"2020-09-25","rate":13.3},
{"country":"Australia","date":"2020-02-12","rate":13},{"country":"Australia","date":"2020-02-14","rate":14},{"country":"Australia","date":"2020-02-17","rate":12},{"country":"Australia","date":"2020-02-22","rate":11.6},{"country":"Australia","date":"2020-02-28","rate":11.6},{"country":"Australia","date":"2020-03-01","rate":13},{"country":"Australia","date":"2020-03-06","rate":12.6},{"country":"Australia","date":"2020-03-08","rate":13},{"country":"Australia","date":"2020-03-09","rate":9.4},{"country":"Australia","date":"2020-03-10","rate":12},{"country":"Australia","date":"2020-03-11","rate":14},{"country":"Australia","date":"2020-03-13","rate":12},{"country":"Australia","date":"2020-03-14","rate":11},{"country":"Australia","date":"2020-03-18","rate":2},{"country":"Australia","date":"2020-03-20","rate":-2.4},{"country":"Australia","date":"2020-03-23","rate":-5.6},{"country":"Australia","date":"2020-03-24","rate":-10.7},{"country":"Australia","date":"2020-03-27","rate":-13.6},{"country":"Australia","date":"2020-03-29","rate":-15.5},{"country":"Australia","date":"2020-03-30","rate":-15},{"country":"Australia","date":"2020-04-03","rate":-19},{"country":"Australia","date":"2020-04-04","rate":-20},{"country":"Australia","date":"2020-04-07","rate":-24.7},{"country":"Australia","date":"2020-04-10","rate":-31},{"country":"Australia","date":"2020-04-11","rate":-35},{"country":"Australia","date":"2020-04-13","rate":-41.7},{"country":"Australia","date":"2020-04-14","rate":-42},{"country":"Australia","date":"2020-04-15","rate":-40},{"country":"Australia","date":"2020-04-16","rate":-39.5},{"country":"Australia","date":"2020-04-18","rate":-36},{"country":"Australia","date":"2020-04-21","rate":-26.7},{"country":"Australia","date":"2020-04-23","rate":-19},{"country":"Australia","date":"2020-04-24","rate":-17},{"country":"Australia","date":"2020-04-25","rate":-12},{"country":"Australia","date":"2020-04-26","rate":-14},{"country":"Australia","date":"2020-04-28","rate":-19},{"country":"Australia","date":"2020-04-30","rate":-22.5},{"country":"Australia","date":"2020-05-02","rate":-24},{"country":"Australia","date":"2020-05-03","rate":-29},{"country":"Australia","date":"2020-05-05","rate":-37.5},{"country":"Australia","date":"2020-05-07","rate":-40.7},{"country":"Australia","date":"2020-05-09","rate":-43},{"country":"Australia","date":"2020-05-12","rate":-42},{"country":"Australia","date":"2020-05-16","rate":-43},{"country":"Australia","date":"2020-05-19","rate":-42},{"country":"Australia","date":"2020-05-22","rate":-41.7},{"country":"Australia","date":"2020-05-25","rate":-41},{"country":"Australia","date":"2020-05-28","rate":-38},{"country":"Australia","date":"2020-05-30","rate":-40},{"country":"Australia","date":"2020-06-01","rate":-38},{"country":"Australia","date":"2020-06-05","rate":-35},{"country":"Australia","date":"2020-06-07","rate":-38},{"country":"Australia","date":"2020-06-09","rate":-32},{"country":"Australia","date":"2020-06-12","rate":-32.6},{"country":"Australia","date":"2020-06-14","rate":-29.5},{"country":"Australia","date":"2020-06-19","rate":-29},{"country":"Australia","date":"2020-06-21","rate":-24.7},{"country":"Australia","date":"2020-06-23","rate":-28},{"country":"Australia","date":"2020-06-26","rate":-25.7},{"country":"Australia","date":"2020-06-30","rate":-23},{"country":"Australia","date":"2020-07-03","rate":-24.7},{"country":"Australia","date":"2020-07-07","rate":-21},{"country":"Australia","date":"2020-07-09","rate":-20},{"country":"Australia","date":"2020-07-12","rate":-17},{"country":"Australia","date":"2020-07-13","rate":-19},{"country":"Australia","date":"2020-07-16","rate":-16},{"country":"Australia","date":"2020-07-18","rate":-14.5},{"country":"Australia","date":"2020-07-22","rate":-14},{"country":"Australia","date":"2020-07-24","rate":-16},{"country":"Australia","date":"2020-07-27","rate":-15},{"country":"Australia","date":"2020-07-30","rate":-15},{"country":"Australia","date":"2020-08-02","rate":-12},{"country":"Australia","date":"2020-08-06","rate":-12},{"country":"Australia","date":"2020-08-07","rate":-9},{"country":"Australia","date":"2020-08-09","rate":-7.5},{"country":"Australia","date":"2020-08-12","rate":-6.5},{"country":"Australia","date":"2020-08-13","rate":-6},{"country":"Australia","date":"2020-08-16","rate":-9.7},{"country":"Australia","date":"2020-08-18","rate":-8.8},{"country":"Australia","date":"2020-08-20","rate":-8.8},{"country":"Australia","date":"2020-08-21","rate":-10.7},{"country":"Australia","date":"2020-08-23","rate":-9.7},{"country":"Australia","date":"2020-08-26","rate":-9.7},{"country":"Australia","date":"2020-08-29","rate":-7.8},{"country":"Australia","date":"2020-08-31","rate":-9.7},{"country":"Australia","date":"2020-09-03","rate":-9.7},{"country":"Australia","date":"2020-09-07","rate":-10.7},{"country":"Australia","date":"2020-09-11","rate":-10.7},{"country":"Australia","date":"2020-09-14","rate":-8.8},{"country":"Australia","date":"2020-09-15","rate":-6},{"country":"Australia","date":"2020-09-17","rate":-4.4},{"country":"Australia","date":"2020-09-19","rate":-5.6},{"country":"Australia","date":"2020-09-21","rate":-4.4},{"country":"Australia","date":"2020-09-22","rate":-1.8},{"country":"Australia","date":"2020-09-25","rate":-1.8}
]},
"layer":[
{"data":{"values":[{}]},
 "mark":{"type":"rule","color":"#a8a8a8","strokeWidth":1.5},
 "encoding":{"y":{"datum":0,"type":"quantitative","scale":{"domain":[-80,80],"nice":false,"zero":false},
   "axis":{"values":[-80,-70,-60,-50,-40,-30,-20,-10,0,10,20,30,40,50,60,70,80],
    "labelExpr":"datum.value % 40 === 0 ? '' + datum.value : ''",
    "grid":true,"gridDash":[1.5,5.5],"gridColor":"#9c9c9c","gridWidth":1.5,
    "ticks":false,"domain":true,"domainColor":"#b0b0b0","domainWidth":1.5,
    "labelFontSize":18,"labelColor":"#8c8c8c","labelPadding":20,"labelFont":"Liberation Sans",
    "title":"Hiring rate, year-on-year (%)","titleFontSize":18,"titleFontWeight":"bold","titleColor":"#7a7a7a","titlePadding":27,"titleFont":"Liberation Sans"}}}},
{"mark":{"type":"line","strokeWidth":3.5},
 "encoding":{
  "x":{"field":"date","type":"temporal",
   "scale":{"type":"utc","nice":false,"domain":[{"year":2020,"month":2,"date":12,"utc":true},{"year":2020,"month":9,"date":25,"utc":true}]},
   "axis":{"title":null,"grid":false,"domain":false,"ticks":true,"tickSize":13,"tickColor":"#bdbdbd","tickWidth":1.5,
    "values":[{"year":2020,"month":2,"date":12,"utc":true},{"year":2020,"month":3,"date":1,"utc":true},{"year":2020,"month":4,"date":1,"utc":true},{"year":2020,"month":5,"date":1,"utc":true},{"year":2020,"month":6,"date":1,"utc":true},{"year":2020,"month":7,"date":1,"utc":true},{"year":2020,"month":8,"date":1,"utc":true},{"year":2020,"month":9,"date":1,"utc":true},{"year":2020,"month":9,"date":25,"utc":true}],
    "labelExpr":"replace(utcFormat(datum.value, '%d %b'), 'Aug', 'Ago')",
    "labelAlign":{"condition":{"test":"datum.value > 1600000000000","value":"right"},"value":"center"},
    "labelFontSize":18,"labelColor":"#555555","labelPadding":12,"labelOverlap":false,"labelFlush":false,"labelFont":"Liberation Sans"}},
  "y":{"field":"rate","type":"quantitative",
   "scale":{"domain":[-80,80],"nice":false,"zero":false},
   "axis":{"values":[-80,-70,-60,-50,-40,-30,-20,-10,0,10,20,30,40,50,60,70,80],
    "labelExpr":"datum.value % 40 === 0 ? '' + datum.value : ''",
    "grid":true,"gridDash":[1.5,5.5],"gridColor":"#9c9c9c","gridWidth":1.5,
    "ticks":false,"domain":true,"domainColor":"#b0b0b0","domainWidth":1.5,
    "labelFontSize":18,"labelColor":"#8c8c8c","labelPadding":20,"labelFont":"Liberation Sans",
    "title":"Hiring rate, year-on-year (%)","titleFontSize":18,"titleFontWeight":"bold","titleColor":"#7a7a7a","titlePadding":27,"titleFont":"Liberation Sans"}},
  "color":{"field":"country","type":"nominal",
   "scale":{"domain":["Australia","Brazil","China","France","Italy","Singapore","United Kingdom","United States"],
    "range":["#1d2557","#72aad8","#a99b5b","#a07d72","#5a66a6","#67935f","#22ade6","#aaaaaa"]},
   "legend":{"title":null,"orient":"none","legendX":-2,"legendY":589,"direction":"horizontal","columns":8,
    "symbolType":"stroke","symbolStrokeWidth":5,"symbolSize":576,"labelFontSize":18,"labelColor":"#222222","labelFont":"Liberation Sans",
    "labelOffset":12,"columnPadding":7}}
 }}
]
}
